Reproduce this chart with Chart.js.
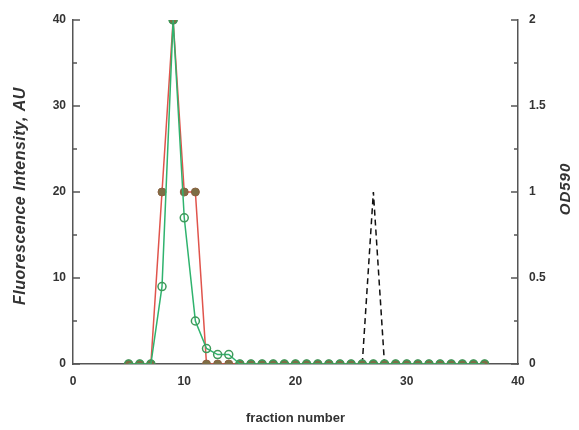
<!DOCTYPE html>
<html>
<head>
    <title>Fraction profile</title>
    <script src="https://cdn.jsdelivr.net/npm/chart.js"></script>
    <style>
        body {
            margin: 0;
            background-color: #fff;
        }
        #wrap {
            width: 579px;
            height: 430px;
        }
    </style>
</head>
<body>
    <div id="wrap">
        <canvas id="fractionChart" width="579" height="430"></canvas>
    </div>

    <script>
        var fractions = [5, 6, 7, 8, 9, 10, 11, 12, 13, 14, 15, 16, 17, 18, 19, 20, 21,
                         22, 23, 24, 25, 26, 27, 28, 29, 30, 31, 32, 33, 34, 35, 36, 37];
        var redSeries = [0, 0, 0, 20, 40, 20, 20, 0, 0, 0, 0, 0, 0, 0, 0, 0, 0,
                         0, 0, 0, 0, 0, 0, 0, 0, 0, 0, 0, 0, 0, 0, 0, 0];
        var greenSeries = [0, 0, 0, 9, 40, 17, 5, 1.8, 1.1, 1.1, 0, 0, 0, 0, 0, 0, 0,
                           0, 0, 0, 0, 0, 0, 0, 0, 0, 0, 0, 0, 0, 0, 0, 0];
        var odFractions = [26, 27, 28];
        var odValues = [0, 1, 0];

        var xTicks = [0, 10, 20, 30, 40];
        var leftTicks = [0, 10, 20, 30, 40];
        var rightTicks = [0, 0.5, 1, 1.5, 2];

        var axisColor = '#555';
        var textColor = '#333';
        var fontFamily = '"Liberation Sans", Arial, sans-serif';

        function toPoints(xs, ys) {
            return xs.map(function(x, i) { return { x: x, y: ys[i] }; });
        }

        function drawText(ctx, text, x, y, font, spacing, rotate) {
            ctx.save();
            ctx.fillStyle = textColor;
            ctx.textAlign = 'center';
            ctx.textBaseline = 'middle';
            ctx.font = font;
            ctx.letterSpacing = spacing;
            ctx.translate(x, y);
            if (rotate) ctx.rotate(-Math.PI / 2);
            ctx.fillText(text, 0, 0);
            ctx.restore();
        }

        // inward tick marks + axis titles (drawn by hand)
        var axisDecor = {
            id: 'axisDecor',
            afterDraw: function(chart) {
                var ctx = chart.ctx;
                var area = chart.chartArea;
                var y = chart.scales.y;
                var y1 = chart.scales.y1;
                ctx.save();
                ctx.strokeStyle = axisColor;
                ctx.lineWidth = 1.5;
                ctx.beginPath();
                for (var v = 0; v <= 40; v += 5) {
                    var py = y.getPixelForValue(v);
                    var len = (v % 10 === 0) ? 7 : 4;
                    ctx.moveTo(area.left, py);
                    ctx.lineTo(area.left + len, py);
                }
                for (var w = 0; w <= 2; w += 0.25) {
                    var py1 = y1.getPixelForValue(w);
                    var len1 = (Math.abs(w * 2 - Math.round(w * 2)) < 1e-6) ? 7 : 4;
                    ctx.moveTo(area.right, py1);
                    ctx.lineTo(area.right - len1, py1);
                }
                ctx.stroke();
                ctx.restore();

                drawText(ctx, 'Fluorescence Intensity, AU', 21, 196,
                         'italic bold 16px ' + fontFamily, '0.5px', true);
                drawText(ctx, 'OD590', 566, 189,
                         'italic bold 15px ' + fontFamily, '1px', true);
                drawText(ctx, 'fraction number', (area.left + area.right) / 2, 418,
                         'bold 13px ' + fontFamily, '0px', false);
            }
        };

        var ctx = document.getElementById('fractionChart').getContext('2d');
        var chart = new Chart(ctx, {
            type: 'line',
            data: {
                datasets: [{
                    label: 'green',
                    data: toPoints(fractions, greenSeries),
                    yAxisID: 'y',
                    borderColor: '#2fb36e',
                    borderWidth: 1.5,
                    pointRadius: 4,
                    pointBorderWidth: 1.5,
                    pointBorderColor: '#3d9a5a',
                    pointBackgroundColor: 'rgba(255,255,255,0)',
                    order: 0
                }, {
                    label: 'red',
                    data: toPoints(fractions, redSeries),
                    yAxisID: 'y',
                    borderColor: '#e0544c',
                    borderWidth: 1.5,
                    pointRadius: 4,
                    pointBorderWidth: 1,
                    pointBorderColor: '#8a6040',
                    pointBackgroundColor: '#7d6e45',
                    order: 1
                }, {
                    label: 'OD590',
                    data: toPoints(odFractions, odValues),
                    yAxisID: 'y1',
                    borderColor: '#111',
                    borderWidth: 1.5,
                    borderDash: [6, 4],
                    pointRadius: 0,
                    order: 2
                }]
            },
            options: {
                responsive: false,
                animation: false,
                layout: {
                    padding: { top: 20, left: 0, right: 0, bottom: 0 }
                },
                plugins: {
                    legend: { display: false },
                    tooltip: { enabled: false }
                },
                elements: {
                    line: { tension: 0 }
                },
                scales: {
                    x: {
                        type: 'linear',
                        min: 0,
                        max: 40,
                        afterBuildTicks: function(s) {
                            s.ticks = xTicks.map(function(v) { return { value: v }; });
                        },
                        afterFit: function(s) { s.height = 66; },
                        grid: { display: false, tickLength: 0 },
                        border: { display: true, color: axisColor, width: 1.5 },
                        ticks: {
                            color: textColor,
                            padding: 10,
                            font: { family: fontFamily, size: 12, weight: 'bold' }
                        }
                    },
                    y: {
                        position: 'left',
                        min: 0,
                        max: 40,
                        afterBuildTicks: function(s) {
                            s.ticks = leftTicks.map(function(v) { return { value: v }; });
                        },
                        afterFit: function(s) { s.width = 73; },
                        grid: { display: false, tickLength: 0 },
                        border: { display: true, color: axisColor, width: 1.5 },
                        ticks: {
                            color: textColor,
                            padding: 7,
                            font: { family: fontFamily, size: 12, weight: 'bold' }
                        }
                    },
                    y1: {
                        position: 'right',
                        min: 0,
                        max: 2,
                        afterBuildTicks: function(s) {
                            s.ticks = rightTicks.map(function(v) { return { value: v }; });
                        },
                        afterFit: function(s) { s.width = 61; },
                        grid: { display: false, tickLength: 0 },
                        border: { display: true, color: axisColor, width: 1.5 },
                        ticks: {
                            color: textColor,
                            padding: 11,
                            callback: function(v) { return String(v); },
                            font: { family: fontFamily, size: 12, weight: 'bold' }
                        }
                    }
                }
            },
            plugins: [axisDecor]
        });
    </script>
</body>
</html>
